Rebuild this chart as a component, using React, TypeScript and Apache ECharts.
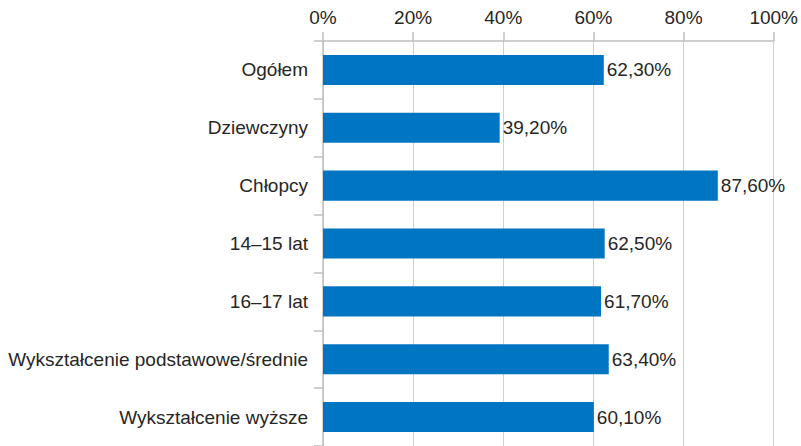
import React, { useEffect, useRef } from "react";
import * as echarts from "echarts";

const categories = [
  "Ogółem",
  "Dziewczyny",
  "Chłopcy",
  "14–15 lat",
  "16–17 lat",
  "Wykształcenie podstawowe/średnie",
  "Wykształcenie wyższe",
];
const values = [62.3, 39.2, 87.6, 62.5, 61.7, 63.4, 60.1];
const xTicks = [0, 20, 40, 60, 80, 100];

export default function App() {
  const ref = useRef<HTMLDivElement>(null);
  useEffect(() => {
    document.body.style.margin = "0";
    if (!ref.current) return;
    const chart = echarts.init(ref.current, null, { renderer: "svg" });
    const font = "'Liberation Sans', Arial, sans-serif";
    chart.setOption({
      animation: false,
      grid: { left: 323, right: 23, top: 41, bottom: -2, containLabel: false },
      xAxis: {
        type: "value",
        position: "top",
        min: xTicks[0],
        max: xTicks[xTicks.length - 1],
        interval: 20,
        axisLine: { show: true, lineStyle: { color: "#BFBFBF", width: 1.5 } },
        axisTick: { show: true, length: 9, lineStyle: { color: "#BFBFBF", width: 1.5 } },
        axisLabel: {
          margin: 14,
          color: "#262626",
          fontSize: 19,
          fontFamily: font,
          formatter: (v: number) => v + "%",
        },
        splitLine: { show: true, lineStyle: { color: "#CFCFCF", width: 1 } },
      },
      yAxis: {
        type: "category",
        inverse: true,
        data: categories,
        axisLine: { show: true, lineStyle: { color: "#BFBFBF", width: 1.5 } },
        axisTick: { show: true, length: 9, lineStyle: { color: "#BFBFBF", width: 1.5 } },
        axisLabel: {
          margin: 15,
          color: "#262626",
          fontSize: 19,
          fontFamily: font,
        },
      },
      series: [
        {
          type: "bar",
          data: values,
          barWidth: "52%",
          itemStyle: { color: "#0075C2" },
          label: {
            show: true,
            position: "right",
            distance: 3,
            color: "#262626",
            fontSize: 19,
            fontFamily: font,
            formatter: (p: any) => p.value.toFixed(2).replace(".", ",") + "%",
          },
        },
      ],
    });
    return () => chart.dispose();
  }, []);
  return <div ref={ref} style={{ width: 801, height: 446 }} />;
}
